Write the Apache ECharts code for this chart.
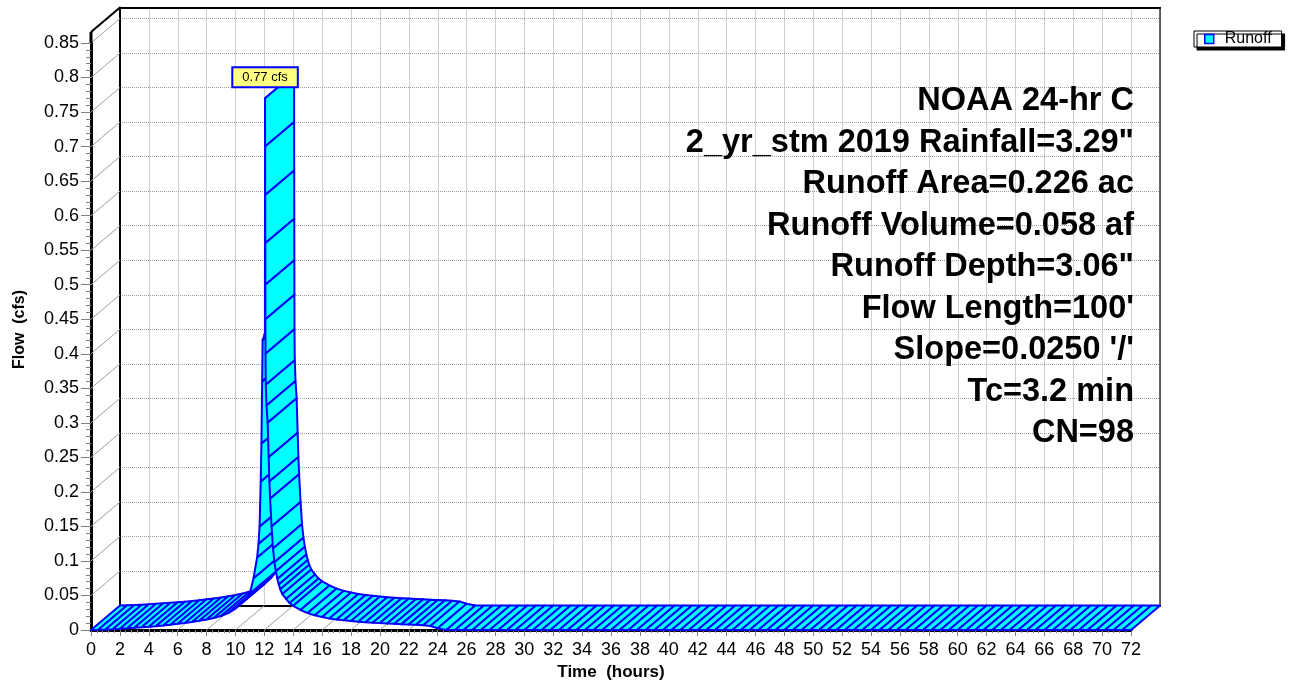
<!DOCTYPE html>
<html><head><meta charset="utf-8">
<script src="https://cdn.jsdelivr.net/npm/echarts@6/dist/echarts.min.js"></script>
<style>html,body{margin:0;padding:0;background:#fff}#c{width:1294px;height:685px}</style>
</head><body><div id="c"></div>
<script>
// ---- data ----
const hours = [
  0,0.5,1,1.5,2,2.5,3,3.5,4,4.5,5,5.5,6,6.5,7,7.5,8,8.5,9,9.5,10,10.5,11,
  11.25,11.5,11.6,11.67,11.75,11.8,11.85,11.88,11.95,12,12.04,12.05,12.055,12.06,12.065,12.07,12.075,12.08,12.1,12.15,12.23,12.3,12.35,12.4,12.5,12.6,12.7,12.8,12.9,13,13.1,13.25,13.5,13.75,
  14,14.5,15,15.5,16,16.5,17,17.5,18,18.5,19,19.5,20,20.5,21,21.5,22,22.5,23,23.5,24,
  24.6,25.2,25.8,26.4,27,27.6,28.2,28.8,29.4,30,
  30.6,31.2,31.8,32.4,33,33.6,34.2,34.8,35.4,36,
  36.6,37.2,37.8,38.4,39,39.6,40.2,40.8,41.4,42,
  42.6,43.2,43.8,44.4,45,45.6,46.2,46.8,47.4,48,
  48.6,49.2,49.8,50.4,51,51.6,52.2,52.8,53.4,54,
  54.6,55.2,55.8,56.4,57,57.6,58.2,58.8,59.4,60,
  60.6,61.2,61.8,62.4,63,63.6,64.2,64.8,65.4,66,
  66.6,67.2,67.8,68.4,69,69.6,70.2,70.8,71.4,72
];
const flows = [
  0,0.0003,0.0007,0.0012,0.0018,0.0025,0.0032,0.0039,0.0047,0.0056,0.0066,0.0077,0.0089,0.0102,0.0117,0.0134,0.0153,0.0175,0.0202,0.0245,0.031,0.041,0.053,
  0.075,0.105,0.125,0.15,0.215,0.27,0.36,0.42,0.423,0.427,0.43,0.77,0.70,0.63,0.56,0.50,0.45,0.40,0.355,0.325,0.30,0.25,0.215,0.19,0.15,0.118,0.098,0.085,0.074,0.066,0.059,0.052,0.045,0.039,
  0.035,0.029,0.0245,0.0212,0.0188,0.0168,0.0152,0.014,0.013,0.0121,0.0113,0.0106,0.01,0.0095,0.009,0.0085,0.008,0.0075,0.0069,0.0058,0.0025,
  0,0,0,0,0,0,0,0,0,0,
  0,0,0,0,0,0,0,0,0,0,
  0,0,0,0,0,0,0,0,0,0,
  0,0,0,0,0,0,0,0,0,0,
  0,0,0,0,0,0,0,0,0,0,
  0,0,0,0,0,0,0,0,0,0,
  0,0,0,0,0,0,0,0,0,0,
  0,0,0,0,0,0,0,0,0,0
];
const xTicks = [0,2,4,6,8,10,12,14,16,18,20,22,24,26,28,30,32,34,36,38,40,42,44,46,48,50,52,54,56,58,60,62,64,66,68,70,72];
const yTicks = [0,0.05,0.1,0.15,0.2,0.25,0.3,0.35,0.4,0.45,0.5,0.55,0.6,0.65,0.7,0.75,0.8,0.85];
const seriesName = 'Runoff';
const peakUnit = 'cfs';
const xTitle = 'Time  (hours)';
const yTitle = 'Flow  (cfs)';
const infoLines = [
  'NOAA 24-hr C',
  '2_yr_stm 2019 Rainfall=3.29"',
  'Runoff Area=0.226 ac',
  'Runoff Volume=0.058 af',
  'Runoff Depth=3.06"',
  "Flow Length=100'",
  "Slope=0.0250 '/'",
  'Tc=3.2 min',
  'CN=98'
];

// ---- layout / style ----
const FONT = '"Liberation Sans", Arial, sans-serif';
const FRONT = {left: 91, top: 43, width: 1040, height: 587};
const BACK = {left: 120, top: 7.5, width: 1040, height: 598};
const X_MAX = xTicks[xTicks.length - 1];
const Y_MAX = yTicks[yTicks.length - 1];
const BOX_TOP = 0.866;
const DX = BACK.left - FRONT.left;
const DY = (BACK.top + BACK.height) - (FRONT.top + FRONT.height);
const GRID_GRAY = '#a0a0a0';
const TICK_GRAY = '#808080';

const off = p => [p[0] + DX, p[1] + DY];

function renderFrame(params, api) {
  const children = [];
  const line = (a, b, stroke, w) => children.push({
    type: 'line', shape: {x1: a[0], y1: a[1], x2: b[0], y2: b[1]},
    style: {stroke: stroke, lineWidth: w}
  });
  yTicks.forEach(v => { const p = api.coord([0, v]); line(p, off(p), '#a0a0a0', 1); });
  xTicks.forEach(t => { const p = api.coord([t, 0]); line(p, off(p), '#a0a0a0', 1); });
  const top = api.coord([0, BOX_TOP]);
  line(api.coord([0, Y_MAX]), top, '#000', 3);
  line(top, off(top), '#000', 2);
  const br = api.coord([X_MAX, 0]);
  line(br, off(br), '#000', 1.5);
  return {type: 'group', children: children};
}

function renderRibbon(params, api) {
  const i = params.dataIndex;
  if (i >= hours.length - 1) return null;
  const a = api.coord([hours[i], flows[i]]);
  const b = api.coord([hours[i + 1], flows[i + 1]]);
  return {
    type: 'polygon',
    shape: {points: [a, b, off(b), off(a)]},
    style: {fill: '#00ffff', stroke: '#0000ff', lineWidth: 2, lineJoin: 'round'}
  };
}

function renderPeak(params, api) {
  const p = api.coord([api.value(0), api.value(1)]);
  return {
    type: 'text', x: p[0], y: p[1] - 12, z2: 100,
    style: {
      text: api.value(1) + ' ' + peakUnit,
      align: 'center', verticalAlign: 'bottom',
      font: '13px ' + FONT, fill: '#000',
      backgroundColor: '#ffff80', borderColor: '#0000ff', borderWidth: 2,
      padding: [3, 9, 2, 9]
    }
  };
}

let peakIdx = 0;
flows.forEach((v, i) => { if (v > flows[peakIdx]) peakIdx = i; });

const chart = echarts.init(document.getElementById('c'), null, {renderer: 'canvas'});
const option = {
  animation: false,
  backgroundColor: '#fff',
  textStyle: {fontFamily: FONT},
  grid: [
    Object.assign({containLabel: false, outerBoundsMode: 'none'}, FRONT),
    Object.assign({containLabel: false, outerBoundsMode: 'none'}, BACK)
  ],
  xAxis: [
    {
      gridIndex: 0, type: 'value', min: 0, max: X_MAX, interval: 2,
      axisLine: {show: true, onZero: false, lineStyle: {color: '#000', width: 3}},
      axisTick: {show: true, length: 6, lineStyle: {color: TICK_GRAY, width: 1}},
      minorTick: {show: true, splitNumber: 5, length: 3, lineStyle: {color: TICK_GRAY, width: 1}},
      axisLabel: {fontSize: 18, color: '#000', margin: 11, fontFamily: FONT},
      splitLine: {show: false},
      name: xTitle, nameLocation: 'middle', nameGap: 34,
      nameTextStyle: {fontSize: 17, fontWeight: 'bold', color: '#000', fontFamily: FONT}
    },
    {
      gridIndex: 1, type: 'value', min: 0, max: X_MAX, interval: 2,
      axisLine: {show: true, onZero: false, lineStyle: {color: '#000', width: 2}},
      axisTick: {show: false}, axisLabel: {show: false},
      splitLine: {show: true, lineStyle: {color: GRID_GRAY, width: 1, type: [1, 1]}}
    },
    {
      gridIndex: 1, type: 'value', position: 'top', min: 0, max: X_MAX, interval: 2,
      axisLine: {show: true, onZero: false, lineStyle: {color: '#000', width: 2}},
      axisTick: {show: false}, axisLabel: {show: false}, splitLine: {show: false}
    }
  ],
  yAxis: [
    {
      gridIndex: 0, type: 'value', min: 0, max: Y_MAX, interval: 0.05,
      axisLine: {show: true, onZero: false, lineStyle: {color: '#000', width: 3}},
      axisTick: {show: true, length: 10, lineStyle: {color: TICK_GRAY, width: 1}},
      minorTick: {show: true, splitNumber: 5, length: 5, lineStyle: {color: TICK_GRAY, width: 1}},
      axisLabel: {fontSize: 18, color: '#000', margin: 12, fontFamily: FONT},
      splitLine: {show: false},
      name: yTitle, nameLocation: 'middle', nameGap: 63, nameRotate: 90,
      nameTextStyle: {fontSize: 16, fontWeight: 'bold', color: '#000', fontFamily: FONT, padding: [0, 0, 0, 14]}
    },
    {
      gridIndex: 1, type: 'value', min: 0, max: BOX_TOP, interval: 0.05,
      axisLine: {show: true, onZero: false, lineStyle: {color: '#000', width: 2}},
      axisTick: {show: false}, axisLabel: {show: false},
      splitLine: {show: true, lineStyle: {color: GRID_GRAY, width: 1, type: [1, 1]}}
    },
    {
      gridIndex: 1, type: 'value', position: 'right', min: 0, max: BOX_TOP, interval: 0.05,
      axisLine: {show: true, onZero: false, lineStyle: {color: '#333', width: 1.5}},
      axisTick: {show: false}, axisLabel: {show: false}, splitLine: {show: false}
    }
  ],
  legend: {
    data: [{name: seriesName, icon: 'rect', itemStyle: {color: '#00ffff', borderColor: '#0000ff', borderWidth: 1.5}}],
    left: 1194, top: 31, orient: 'horizontal',
    padding: [0, 10, 0, 10], itemWidth: 9, itemHeight: 9,
    textStyle: {fontSize: 16, color: '#000', fontFamily: FONT, padding: [0, 0, 0, 6]},
    backgroundColor: '#fff', borderColor: '#000', borderWidth: 1, borderRadius: 0,
    shadowColor: '#000', shadowOffsetX: 3, shadowOffsetY: 3, shadowBlur: 0
  },
  graphic: infoLines.map((s, i) => ({
    type: 'text', x: 1134, y: 101.5 + i * 41.45, z: 50, silent: true,
    style: {text: s, align: 'right', verticalAlign: 'middle',
            font: 'bold 32.5px ' + FONT, fill: '#000'}
  })),
  series: [
    {
      type: 'custom', name: 'frame', xAxisIndex: 0, yAxisIndex: 0, silent: true, clip: false, z: 1,
      data: [[0, 0]], renderItem: renderFrame
    },
    {
      type: 'custom', name: seriesName, xAxisIndex: 0, yAxisIndex: 0, silent: true, clip: false, z: 3,
      itemStyle: {color: '#00ffff', borderColor: '#0000ff'},
      data: hours.map((t, i) => [t, flows[i]]), renderItem: renderRibbon
    },
    {
      type: 'custom', name: 'peak', xAxisIndex: 0, yAxisIndex: 0, silent: true, clip: false, z: 10,
      data: [[hours[peakIdx], flows[peakIdx]]], renderItem: renderPeak
    }
  ]
};
chart.setOption(option);
</script>
</body></html>
